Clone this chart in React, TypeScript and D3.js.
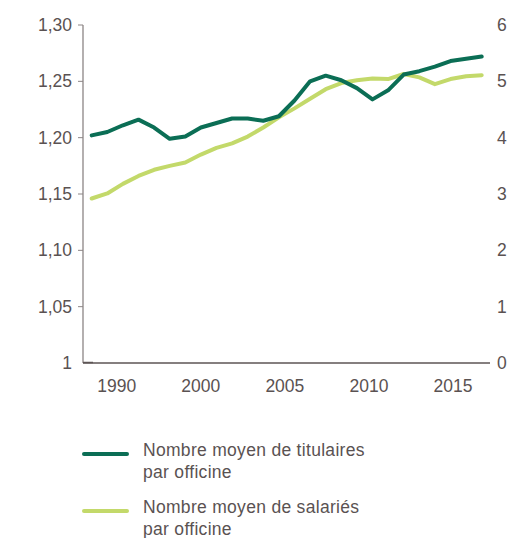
import React from "react";
import * as d3 from "d3";

const titulaires = [1.202, 1.205, 1.211, 1.216, 1.209, 1.199, 1.201, 1.209, 1.213, 1.217, 1.217, 1.215, 1.219, 1.233, 1.250, 1.255, 1.251, 1.244, 1.234, 1.242, 1.256, 1.259, 1.263, 1.268, 1.270, 1.272];
const salaries = [2.92, 3.01, 3.18, 3.32, 3.43, 3.50, 3.56, 3.70, 3.82, 3.90, 4.02, 4.18, 4.36, 4.52, 4.69, 4.86, 4.97, 5.02, 5.05, 5.04, 5.13, 5.07, 4.95, 5.04, 5.09, 5.11];
const xTickLabels = ["1990", "2000", "2005", "2010", "2015"];
const leftTicks = [1, 1.05, 1.1, 1.15, 1.2, 1.25, 1.3];
const rightTicks = [0, 1, 2, 3, 4, 5, 6];
const legendItems = [
  { lines: ["Nombre moyen de titulaires", "par officine"], color: "#0b6e55" },
  { lines: ["Nombre moyen de salariés", "par officine"], color: "#c3d96a" },
];

const W = 514, H = 538;
const FONT = "'Liberation Sans', Arial, sans-serif";
const TEXT = "#5a5252";

export default function App() {
  const top = 25, bottom = 363, left = 83, right = 490;
  const yL = d3.scaleLinear().domain([1, 1.3]).range([bottom, top]);
  const yR = d3.scaleLinear().domain([0, 6]).range([bottom, top]);
  const x = d3.scaleLinear().domain([0, titulaires.length - 1]).range([91.7, 481.7]);
  const xLab = d3.scalePoint<string>().domain(xTickLabels).range([116.7, 453]);
  const fmt = (v: number) => (v === 1 ? "1" : d3.format(".2f")(v).replace(".", ","));

  const lineL = d3.line<number>().x((_, i) => x(i)).y((d) => yL(d));
  const lineR = d3.line<number>().x((_, i) => x(i)).y((d) => yR(d));

  return (
    <svg width={W} height={H} style={{ position: "absolute", left: 0, top: 0 }} fontFamily={FONT}>
      <rect width={W} height={H} fill="#fff" />
      {/* left axis */}
      <line x1={left} x2={left} y1={top} y2={bottom} stroke="#8c8585" strokeWidth={1.3} />
      {leftTicks.map((t) => (
        <g key={t}>
          {t !== 1 && <line x1={left - 5} x2={left} y1={yL(t)} y2={yL(t)} stroke="#8c8585" strokeWidth={1} />}
          <text x={72} y={yL(t)} dy="0.35em" textAnchor="end" fontSize={17.5} fill={TEXT}>{fmt(t)}</text>
        </g>
      ))}
      {/* right labels */}
      {rightTicks.map((t) => (
        <text key={t} x={497} y={yR(t)} dy="0.35em" textAnchor="start" fontSize={17.5} fill={TEXT}>{t}</text>
      ))}
      {/* x axis */}
      <line x1={left} x2={right} y1={bottom} y2={bottom} stroke="#5d5555" strokeWidth={1.3} />
      <line x1={left} x2={93} y1={bottom - 0.5} y2={bottom - 0.5} stroke="#5d5555" strokeWidth={1.5} />
      {xTickLabels.map((l) => (
        <text key={l} x={xLab(l)} y={392} textAnchor="middle" fontSize={17.5} fill={TEXT}>{l}</text>
      ))}
      {/* lines */}
      <path d={lineR(salaries) || ""} fill="none" stroke="#c3d96a" strokeWidth={4} strokeLinejoin="round" strokeLinecap="round" />
      <path d={lineL(titulaires) || ""} fill="none" stroke="#0b6e55" strokeWidth={4} strokeLinejoin="round" strokeLinecap="round" />
      {/* legend */}
      {legendItems.map((it, i) => {
        const ly = 454 + i * 57;
        return (
          <g key={i}>
            <line x1={84} x2={127} y1={ly} y2={ly} stroke={it.color} strokeWidth={4} strokeLinecap="round" />
            {it.lines.map((s, j) => (
              <text key={j} x={143} y={ly + 2 + j * 21.5} fontSize={17.5} letterSpacing={0.3} fill={TEXT}>{s}</text>
            ))}
          </g>
        );
      })}
    </svg>
  );
}
